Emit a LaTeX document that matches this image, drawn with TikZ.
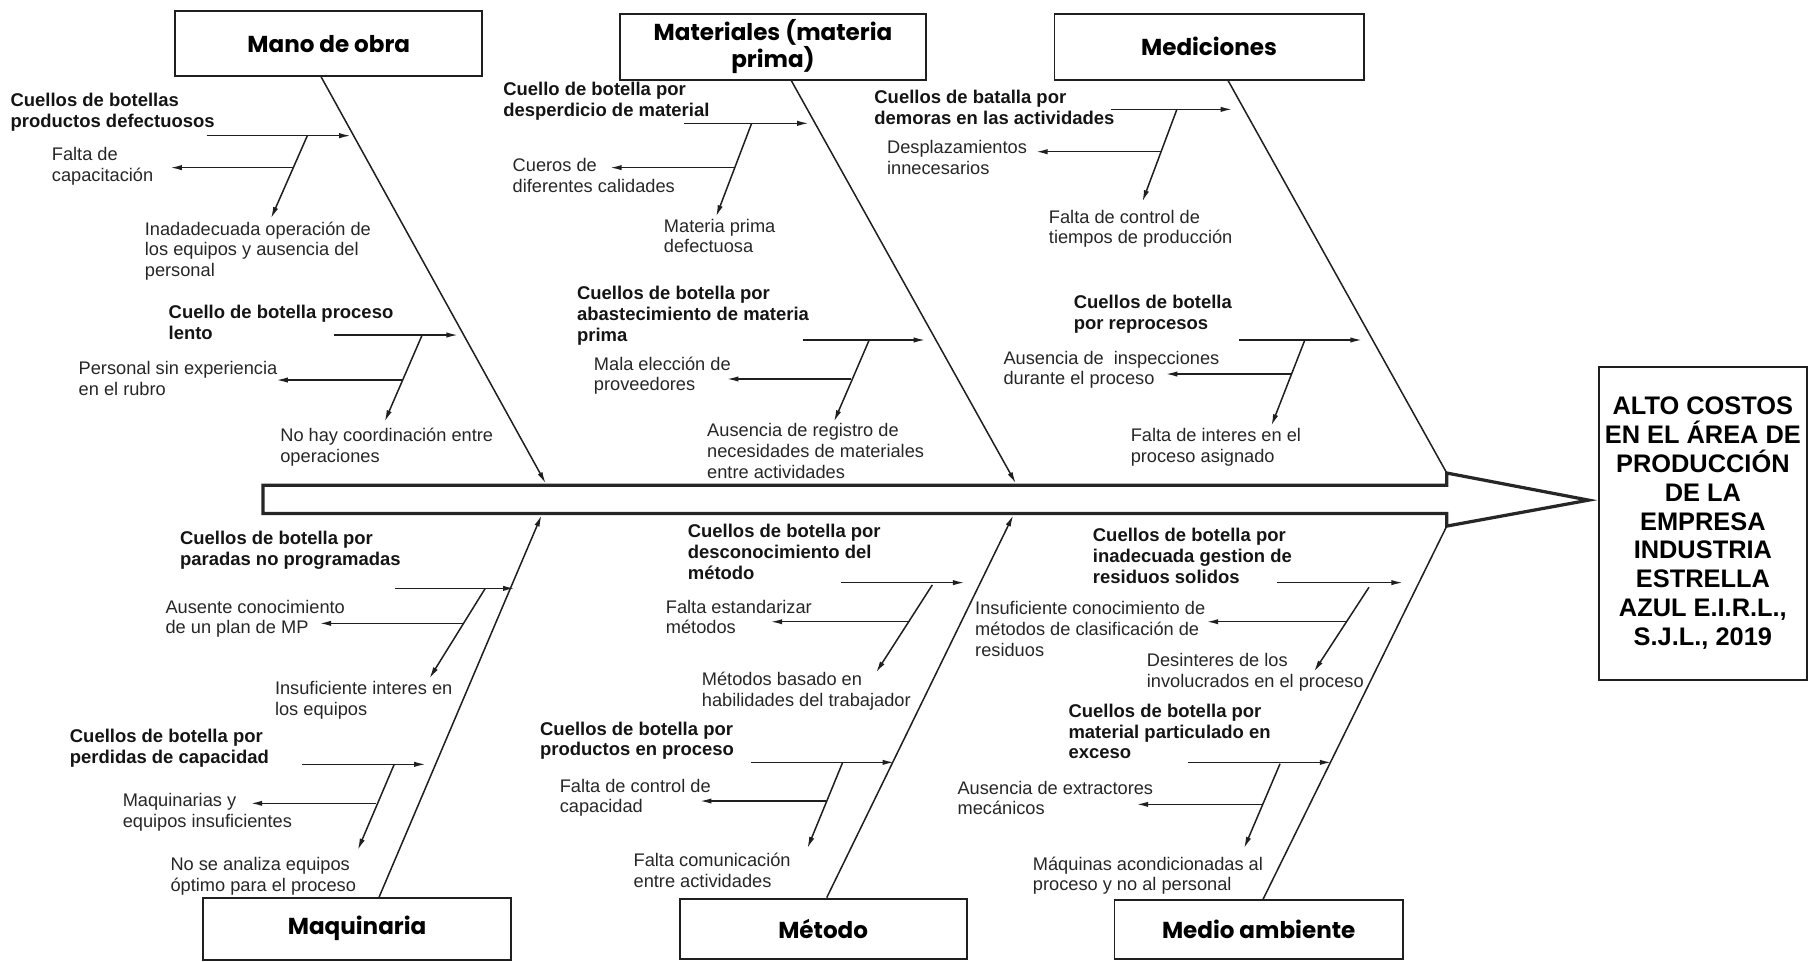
\documentclass[tikz,border=0pt]{standalone}
\usepackage{fontspec}
\setmainfont{Liberation Sans}
\newfontfamily\headfont{Poppins}
\usetikzlibrary{arrows.meta}

\tikzset{
  txt/.style={anchor=north west, inner sep=0pt, align=left,
    font=\fontsize{15.8}{18}\selectfont, text=black!85,
    execute at begin node={\rule{0pt}{13pt}}},
  cause/.style={txt, font=\fontsize{16}{18}\selectfont\bfseries, text=black!92},
  catbox/.style={draw=black!88, line width=1.7pt, inner sep=0pt, align=center,
    font=\headfont\bfseries\fontsize{20}{23}\selectfont},
  effectbox/.style={draw=black!88, line width=1.7pt, inner sep=0pt,
    minimum width=180pt, minimum height=271pt, align=center,
    font=\fontsize{22}{25}\selectfont\bfseries},
  bone/.style={draw=black!88, line width=1.3pt},
  arrowend/.style={-{Latex[length=10pt,width=4.6pt]}},
  twig/.style={bone, arrowend},
  spine/.style={draw=black!85, line width=2.8pt, line join=miter},
}

% one sub-cause: arrow to the bone, slanted arrow, arrow to the left
\newcommand\fishtwig[7]{%
  \coordinate (h#1s) at (#2); \coordinate (h#1e) at (#3);
  \coordinate (d#1s) at (#4); \coordinate (d#1e) at (#5);
  \coordinate (l#1s) at (#6); \coordinate (l#1e) at (#7);
  \draw[twig] (h#1s) -- (h#1e);
  \draw[twig] (d#1s) -- (d#1e);
  \draw[twig] (l#1s) -- (l#1e);}

\begin{document}
\begin{tikzpicture}[x=1pt, y=-1pt]
\useasboundingbox (0,0) rectangle (1568,833);

% ---------- spine with arrow head ----------
\coordinate (notchT) at (1254,410);
\coordinate (notchB) at (1254,456);
\draw[spine] (228,420.5) -- (1254,420.5) -- (notchT) -- (1377,433.5)
  -- (notchB) -- (1254,445) -- (228,445) -- cycle;

% ---------- effect ----------
\node[effectbox] (eff) at (1476,453.5) {ALTO COSTOS\\EN EL ÁREA DE\\PRODUCCIÓN\\DE LA\\EMPRESA\\INDUSTRIA\\ESTRELLA\\AZUL E.I.R.L.,\\S.J.L., 2019};

% ---------- categories ----------
\node[catbox, minimum width=266pt, minimum height=56.5pt] (MO)  at (285,37.8)   {Mano de obra};
\node[catbox, minimum width=266pt, minimum height=57pt]   (MAT) at (670,40.5)   {Materiales (materia\\prima)};
\node[catbox, minimum width=268pt, minimum height=57pt]   (MED) at (1048,40.5)  {Mediciones};
\node[catbox, minimum width=267pt, minimum height=54pt]   (MAQ) at (309.5,805)  {Maquinaria};
\node[catbox, minimum width=249pt, minimum height=52pt]   (MET) at (713.5,805)  {Método};
\node[catbox, minimum width=250pt, minimum height=51pt]   (MA)  at (1091,805.5) {Medio ambiente};

% ---------- main bones ----------
\coordinate (MOa) at (278,66);      \coordinate (MOb) at (473,419);
\coordinate (MATa) at (685.4,69);   \coordinate (MATb) at (880.5,419);
\coordinate (MEDa) at (1064,69);
\coordinate (MAQa) at (328.4,778);  \coordinate (MAQb) at (469.4,446.5);
\coordinate (METa) at (716.6,778);  \coordinate (METb) at (878.3,446.5);
\coordinate (MAa) at (1094.5,780);
\draw[twig] (MOa) -- (MOb);
\draw[twig] (MATa) -- (MATb);
\draw[bone] (MEDa) -- (notchT);
\draw[twig] (MAQa) -- (MAQb);
\draw[twig] (METa) -- (METb);
\draw[bone] (MAa) -- (notchB);

% ---------- Mano de obra ----------
\node[cause] (c1) at (9,80.6) {Cuellos de botellas\\productos defectuosos};
\node[txt] (p1) at (44.8,127.7) {Falta de\\capacitación};
\node[txt] (q1) at (125.4,191.9) {Inadadecuada operación de\\los equipos y ausencia del\\personal};
\fishtwig{1}{179,117.6}{304,117.6}{266.4,117.6}{234.9,189.3}{254.5,145.3}{147.6,145.3}

\node[cause] (c2) at (146,264.1) {Cuello de botella proceso\\lento};
\node[txt] (p2) at (68,313.2) {Personal sin experiencia\\en el rubro};
\node[txt] (q2) at (242.8,371) {No hay coordinación entre\\operaciones};
\fishtwig{2}{289.3,290.4}{397,290.4}{365.9,290.4}{333.4,365.5}{348.5,329.4}{239.5,329.4}

% ---------- Materiales ----------
\node[cause] (c3) at (436,71.1) {Cuello de botella por\\desperdicio de material};
\node[txt] (p3) at (444.2,137) {Cueros de\\diferentes calidades};
\node[txt] (q3) at (575.3,189.5) {Materia prima\\defectuosa};
\fishtwig{3}{592.9,106.9}{701,106.9}{651.5,106.9}{620.7,187.8}{636.5,145.3}{528.8,145.3}

\node[cause] (c4) at (500,248.2) {Cuellos de botella por\\abastecimiento de materia\\prima};
\node[txt] (p4) at (514.6,308.9) {Mala elección de\\proveedores};
\node[txt] (q4) at (612.8,366.7) {Ausencia de registro de\\necesidades de materiales\\entre actividades};
\fishtwig{4}{695.7,294.7}{802,294.7}{753.4,294.7}{722.9,365.5}{738,328.5}{630,328.5}

% ---------- Mediciones ----------
\node[cause] (c5) at (757.7,77.7) {Cuellos de batalla por\\demoras en las actividades};
\node[txt] (p5) at (768.7,121.7) {Desplazamientos\\innecesarios};
\node[txt] (q5) at (909,181.7) {Falta de control de\\tiempos de producción};
\fishtwig{5}{962.7,94.8}{1068,94.8}{1020.1,94.8}{990.2,174.8}{1006,131.5}{898,131.5}

\node[cause] (c6) at (930.6,256) {Cuellos de botella\\por reprocesos};
\node[txt] (p6) at (869.6,304) {Ausencia de\ \ inspecciones\\durante el proceso};
\node[txt] (q6) at (979.9,371) {Falta de interes en el\\proceso asignado};
\fishtwig{6}{1073.8,294.7}{1180.5,294.7}{1131,294.7}{1102,369}{1119,324.2}{1010.4,324.2}

% ---------- Maquinaria ----------
\node[cause] (c7) at (155.9,460.5) {Cuellos de botella por\\paradas no programadas};
\node[txt] (p7) at (143.3,519.8) {Ausente conocimiento\\de un plan de MP};
\node[txt] (q7) at (238.2,590.6) {Insuficiente interes en\\los equipos};
\fishtwig{7}{342.7,510}{446,510}{420.6,510}{372.2,588}{401.6,540.3}{277,540.3}

\node[cause] (c8) at (60.4,631.6) {Cuellos de botella por\\perdidas de capacidad};
\node[txt] (p8) at (106.2,687.4) {Maquinarias y\\equipos insuficientes};
\node[txt] (q8) at (147.6,742.8) {No se analiza equipos\\óptimo para el proceso};
\fishtwig{8}{262,662.5}{369,662.5}{341.7,662.5}{310.1,736.8}{326,696.3}{217.3,696.3}

% ---------- Método ----------
\node[cause] (c9) at (596,454.2) {Cuellos de botella por\\desconocimiento del\\método};
\node[txt] (p9) at (577,519.8) {Falta estandarizar\\métodos};
\node[txt] (q9) at (608.2,582.5) {Métodos basado en\\habilidades del trabajador};
\fishtwig{9}{729,505}{836,505}{808.1,507}{759.3,583}{788.5,538.9}{668,538.9}

\node[cause] (c10) at (468,625.3) {Cuellos de botella por\\productos en proceso};
\node[txt] (p10) at (485,674.9) {Falta de control de\\capacidad};
\node[txt] (q10) at (549,739.4) {Falta comunicación\\entre actividades};
\fishtwig{10}{650.7,660.8}{775,660.8}{730.4,660.8}{699.8,735.3}{716,694.3}{606.7,694.3}

% ---------- Medio ambiente ----------
\node[cause] (c11) at (947.1,457.7) {Cuellos de botella por\\inadecuada gestion de\\residuos solidos};
\node[txt] (p11) at (845.1,521.2) {Insuficiente conocimiento de\\métodos de clasificación de\\residuos};
\node[txt] (q11) at (993.9,566) {Desinteres de los\\involucrados en el proceso};
\fishtwig{11}{1107.2,505}{1216,505}{1186.6,509}{1138.9,582.2}{1167.5,538.9}{1045.9,538.9}

\node[cause] (c12) at (926,609.9) {Cuellos de botella por\\material particulado en\\exceso};
\node[txt] (p12) at (829.8,676.7) {Ausencia de extractores\\mecánicos};
\node[txt] (q12) at (895.1,742.3) {Máquinas acondicionadas al\\proceso y no al personal};
\fishtwig{12}{1030,660.8}{1154,660.8}{1109.5,662}{1078.3,735.3}{1094.5,697.2}{985.2,697.2}

\end{tikzpicture}
\end{document}
